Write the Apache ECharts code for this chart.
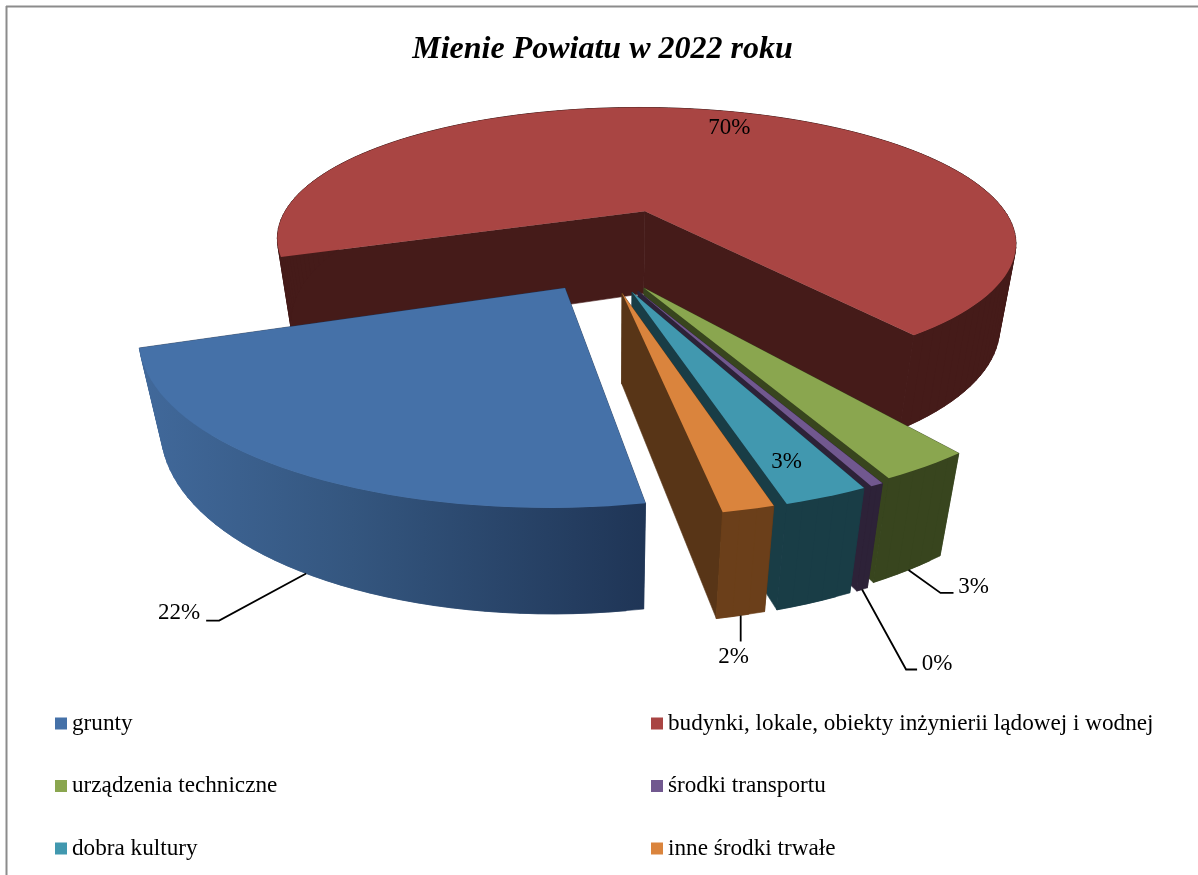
<!DOCTYPE html>
<html lang="pl">
<head>
<meta charset="utf-8">
<title>Mienie Powiatu w 2022 roku</title>
<script src="https://cdn.jsdelivr.net/npm/echarts@6/dist/echarts.min.js"></script>
<style>
  html, body { margin: 0; padding: 0; background: #fff; }
  #chart { width: 1198px; height: 875px; }
</style>
</head>
<body>
<div id="chart"></div>
<script>
const titleText = 'Mienie Powiatu w 2022 roku'
const categories = ['grunty', 'budynki, lokale, obiekty inżynierii lądowej i wodnej', 'urządzenia techniczne', 'środki transportu', 'dobra kultury', 'inne środki trwałe']
const shares = [22.4, 70.25, 2.85, 0.4, 2.55, 1.55]

// look of each slice
const topColors = ['#4571a8', '#a94543', '#8aa64f', '#71588f', '#4198af', '#da843d']
const rimColors = ['#2f507a', '#451b19', '#38451e', '#2d2238', '#193d46', '#6b3f1a']
const cutColors = ['#1f3556', '#451b19', '#38451e', '#2d2238', '#193d46', '#583517']
const drawOrder = [1, 0, 2, 3, 4, 5]

// camera: plan (u, v) plus depth h to screen
const cam = { x0: 613, y0: 250, A: 384.6, B: 145, C: 90, k: 0.24, m: 0.043 }
const startAngle = 169.8
// how far each slice is pulled out, in plan units
const pullU = [-0.1175, 0.0888, 0.0758, 0.0609, 0.0462, 0.0218]
const pullV = [0.2465, -0.2865, 0.2465, 0.2648, 0.2709, 0.2769]

// labels: offsets in px from the rim point of the slice
const labelFont = '23px "Liberation Serif"'
const leaders = [
  { elbow: [-87, 47], end: [-100, 47], text: [-127, 39] },
  null,
  { elbow: [32, 23], end: [45, 23], text: [65, 17] },
  { elbow: [44, 80], end: [55, 80], text: [75, 74] },
  null,
  { elbow: [0, 14], end: [0, 26], text: [-7, 41] }
]
const insideLabels = [null, [4, 17], null, null, [-40, -35], null]

function project(u, v, h) {
  const w = 1 - cam.k * v + cam.m * h
  return [cam.x0 + cam.A * u / w, cam.y0 + (cam.B * v + cam.C * h) / w]
}

function rimPoint(i, deg, h) {
  const t = deg * Math.PI / 180
  return project(pullU[i] + Math.sin(t), pullV[i] - Math.cos(t), h)
}

const total = shares.reduce((a, b) => a + b, 0)
const startOf = []
let run = startAngle
shares.forEach((s, i) => {
  startOf[i] = run
  run += s / total * 360
})

function renderSlice(i) {
  const a = startOf[i]
  const b = a + shares[i] / total * 360
  const topArc = []
  const bottomArc = []
  const n = Math.max(2, Math.ceil((b - a) / 2))
  for (let j = 0; j <= n; j++) {
    const d = a + (b - a) * j / n
    topArc.push(rimPoint(i, d, 0))
    bottomArc.push(rimPoint(i, d, 1))
  }
  const apex = project(pullU[i], pullV[i], 0)
  const apexLow = project(pullU[i], pullV[i], 1)
  const xs = topArc.map(p => p[0])
  const rimFill = i === 0
    ? new echarts.graphic.LinearGradient(Math.min(...xs), 0, Math.max(...xs), 0, [
        { offset: 0, color: '#41699b' },
        { offset: 0.42, color: '#34567f' },
        { offset: 1, color: '#1f3556' }
      ], true)
    : rimColors[i]

  const wall = (points, fill) => ({
    type: 'polygon',
    shape: { points },
    style: { fill, stroke: fill, lineWidth: 0.6 }
  })
  const children = [
    wall([apex, topArc[0], bottomArc[0], apexLow], cutColors[i]),
    wall([apex, topArc[n], bottomArc[n], apexLow], cutColors[i])
  ]
  // outer wall goes strip by strip because it folds over at the silhouette,
  // each strip overlaps the next one so no seams show
  for (let j = 0; j < n; j++) {
    const e = Math.min(j + 2, n)
    children.push(wall([topArc[j], topArc[e], bottomArc[e], bottomArc[j]], rimFill))
  }
  children.push({
    type: 'polygon',
    shape: { points: [apex].concat(topArc) },
    style: { fill: topColors[i], stroke: null }
  })

  const mid = (a + b) / 2
  const pct = Math.round(shares[i]) + '%'
  const text = (x, y) => ({
    type: 'text',
    style: { text: pct, x, y, fill: '#000', font: labelFont, align: 'center', verticalAlign: 'middle' }
  })
  if (leaders[i]) {
    const p = rimPoint(i, mid, 1)
    const l = leaders[i]
    children.push({
      type: 'polyline',
      shape: { points: [p, [p[0] + l.elbow[0], p[1] + l.elbow[1]], [p[0] + l.end[0], p[1] + l.end[1]]] },
      style: { stroke: '#000', lineWidth: 1.8, fill: null }
    })
    children.push(text(p[0] + l.text[0], p[1] + l.text[1]))
  } else {
    const p = rimPoint(i, mid, 0)
    children.push(text(p[0] + insideLabels[i][0], p[1] + insideLabels[i][1]))
  }
  return { type: 'group', children }
}

const legendBase = {
  orient: 'vertical',
  top: 712,
  padding: 0,
  itemWidth: 12,
  itemHeight: 12,
  itemGap: 39.5,
  icon: 'rect',
  selectedMode: false,
  textStyle: { fontFamily: 'Liberation Serif', fontSize: 23.2, color: '#000' }
}

const chart = echarts.init(document.getElementById('chart'))
chart.setOption({
  animation: false,
  backgroundColor: '#fff',
  title: {
    text: titleText,
    left: 597.5,
    top: 29,
    textAlign: 'center',
    textStyle: { fontFamily: 'Liberation Serif', fontSize: 32, fontWeight: 'bold', fontStyle: 'italic', color: '#000' }
  },
  legend: [
    Object.assign({}, legendBase, { left: 55, data: [categories[0], categories[2], categories[4]] }),
    Object.assign({}, legendBase, { left: 651, data: [categories[1], categories[3], categories[5]] })
  ],
  graphic: [
    { type: 'line', silent: true, shape: { x1: 6.5, y1: 6, x2: 6.5, y2: 875 }, style: { stroke: '#8c8c8c', lineWidth: 2 } },
    { type: 'line', silent: true, shape: { x1: 6, y1: 6.5, x2: 1198, y2: 6.5 }, style: { stroke: '#8c8c8c', lineWidth: 2 } }
  ],
  series: drawOrder.map(i => ({
    type: 'custom',
    name: categories[i],
    coordinateSystem: 'none',
    silent: true,
    itemStyle: { color: topColors[i] },
    data: [shares[i]],
    renderItem: () => renderSlice(i)
  }))
})
</script>
</body>
</html>
